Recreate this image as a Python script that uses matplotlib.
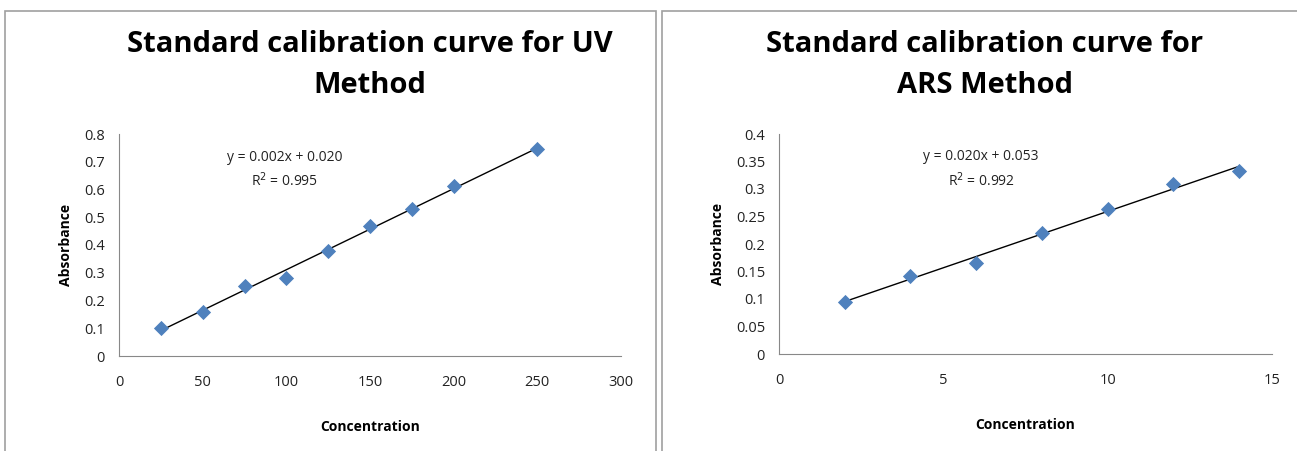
import numpy as np
import matplotlib.pyplot as plt
from matplotlib.patches import Rectangle

# UV method calibration points
uv_conc = [25, 50, 75, 100, 125, 150, 175, 200, 250]
uv_abs = [0.100, 0.160, 0.252, 0.280, 0.380, 0.470, 0.530, 0.612, 0.745]
uv_eq = "y = 0.002x + 0.020"
uv_r2 = "R$^2$ = 0.995"

# ARS method calibration points
ars_conc = [2, 4, 6, 8, 10, 12, 14]
ars_abs = [0.095, 0.142, 0.165, 0.220, 0.263, 0.310, 0.333]
ars_eq = "y = 0.020x + 0.053"
ars_r2 = "R$^2$ = 0.992"

TITLE_FONT = ["Open Sans", "DejaVu Sans"]
BODY_FONT = ["Open Sans", "DejaVu Sans"]
BLUE = "#4F81BD"

fig = plt.figure(figsize=(12.97, 4.51), dpi=100)
W, H = 1297, 451

# chart frames (gray borders)
for x0, x1 in [(5, 656), (662, 1300)]:
    fig.patches.append(Rectangle((x0 / W, -0.1), (x1 - x0) / W, 1.1 - 11 / H,
                                 transform=fig.transFigure, fill=False,
                                 edgecolor="#A0A0A0", lw=1.2))


def panel(rect, xs, ys, xlim, xticks, ylim, yticks, ytick_fmt, title, title_x,
          eq, r2, eq_pos):
    ax = fig.add_axes(rect)
    ax.scatter(xs, ys, marker="D", s=60, color=BLUE, zorder=3, linewidths=0)
    k, b = np.polyfit(xs, ys, 1)
    xx = np.array([min(xs), max(xs)])
    ax.plot(xx, k * xx + b, color="black", lw=1.0, zorder=2)
    ax.set_xlim(*xlim)
    ax.set_ylim(*ylim)
    ax.set_xticks(xticks)
    ax.set_yticks(yticks)
    ax.set_yticklabels([ytick_fmt(v) for v in yticks])
    ax.tick_params(length=0, labelsize=10.5, pad=14, colors="#222222")
    ax.tick_params(axis="y", pad=10)
    for lab in ax.get_xticklabels() + ax.get_yticklabels():
        lab.set_family(BODY_FONT)
    for s in ["top", "right"]:
        ax.spines[s].set_visible(False)
    for s in ["left", "bottom"]:
        ax.spines[s].set_color("#888888")
        ax.spines[s].set_linewidth(0.8)
    ax.set_xlabel("Concentration", fontsize=10, fontweight="bold",
                  family=BODY_FONT, labelpad=21)
    ax.set_ylabel("Absorbance", fontsize=10, fontweight="bold",
                  family=BODY_FONT, labelpad=8)
    ax.text(eq_pos[0], eq_pos[1], eq + "\n" + r2, transform=ax.transAxes,
            ha="center", va="top", fontsize=10, family=BODY_FONT,
            linespacing=1.5, color="#222222")
    fig.text(title_x / W, 1 - 30 / H, title, ha="center", va="top",
             fontsize=21, fontweight="bold", family=TITLE_FONT,
             linespacing=1.55)
    return ax


panel([119 / W, 1 - 356 / H, (621 - 119) / W, (356 - 134) / H],
      uv_conc, uv_abs, (0, 300), range(0, 301, 50), (0, 0.8),
      np.arange(0, 0.81, 0.1), lambda v: "0" if v == 0 else f"{v:.1f}",
      "Standard calibration curve for UV\nMethod", 370,
      uv_eq, uv_r2, (0.33, 0.93))

panel([779 / W, 1 - 354 / H, (1272 - 779) / W, (354 - 134) / H],
      ars_conc, ars_abs, (0, 15), [0, 5, 10, 15], (0, 0.4),
      np.arange(0, 0.401, 0.05), lambda v: "0" if v == 0 else f"{v:.2f}".rstrip("0"),
      "Standard calibration curve for\nARS Method", 985,
      ars_eq, ars_r2, (0.41, 0.93))

fig.savefig("out.png", dpi=100, facecolor="white")
